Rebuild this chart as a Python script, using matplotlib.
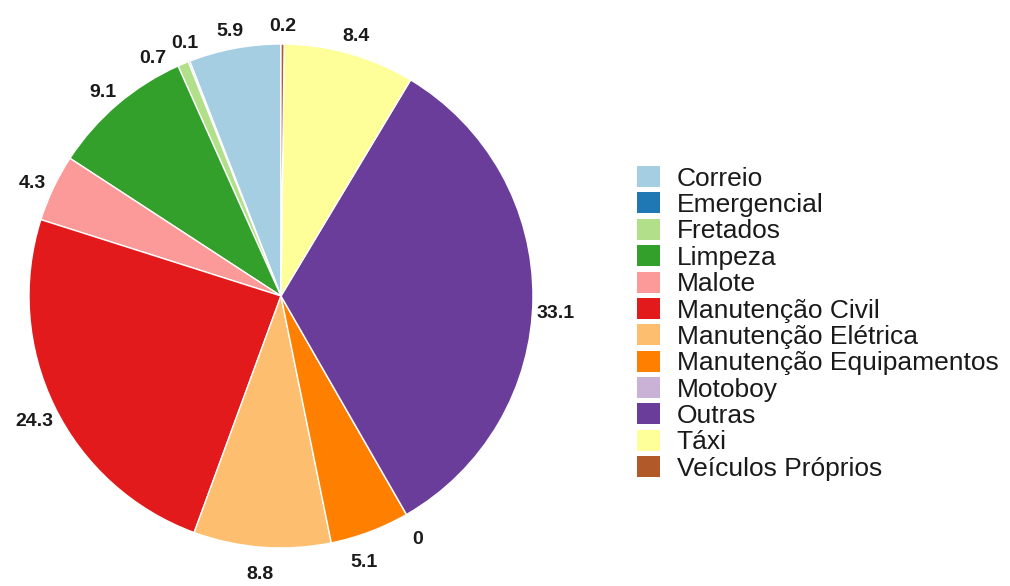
import numpy as np
import matplotlib
matplotlib.use('Agg')
import matplotlib.pyplot as plt

# Participação de cada tipo de serviço (%)
categorias = ['Correio', 'Emergencial', 'Fretados', 'Limpeza', 'Malote',
              'Manutenção Civil', 'Manutenção Elétrica', 'Manutenção Equipamentos',
              'Motoboy', 'Outras', 'Táxi', 'Veículos Próprios']
valores = [5.9, 0.1, 0.7, 9.1, 4.3, 24.3, 8.8, 5.1, 0, 33.1, 8.4, 0.2]

# Paleta "Paired" (ColorBrewer)
cores = ['#A6CEE3', '#1F78B4', '#B2DF8A', '#33A02C', '#FB9A99', '#E31A1C',
         '#FDBF6F', '#FF7F00', '#CAB2D6', '#6A3D9A', '#FFFF99', '#B15928']

# pequeno deslocamento angular (graus) para rótulos apertados
desloc_rotulo = [0, -1, 5, 0, 0, 0, 0, -3, 0, -2, 0, 0]

plt.rcParams['font.family'] = ['Liberation Sans', 'DejaVu Sans']

fig = plt.figure(figsize=(10.1, 5.86), dpi=100)
ax = fig.add_axes([-0.0112, -0.0039, 0.5788, 0.9976])

fatias, _ = ax.pie(valores, colors=cores, startangle=90, counterclock=True,
                   labels=categorias, labeldistance=None,
                   wedgeprops=dict(edgecolor='white', linewidth=1.0))

# rótulos com os valores, fora da pizza
for w, v, d in zip(fatias, valores, desloc_rotulo):
    ang = np.deg2rad((w.theta1 + w.theta2) / 2 + d)
    r = 1.09
    ax.text(r * np.cos(ang), r * np.sin(ang) - 0.02, f'{v:g}', ha='center', va='center',
            fontsize=14, fontweight='bold', color='#1a1a1a')

ax.set_xlim(-1.16, 1.16)
ax.set_ylim(-1.16, 1.16)
ax.set_aspect('equal')
ax.axis('off')

leg = fig.legend(handles=fatias, labels=categorias, loc='upper left',
                 bbox_to_anchor=(0.6307, 0.7167), frameon=False, borderpad=0,
                 fontsize=19, labelspacing=0.065, handlelength=0.86,
                 handleheight=0.85, handletextpad=0.64, borderaxespad=0)
for h in leg.legend_handles:
    h.set_edgecolor('none')
for t in leg.get_texts():
    t.set_color('#1a1a1a')

fig.savefig('out.png', dpi=100, facecolor='white')
